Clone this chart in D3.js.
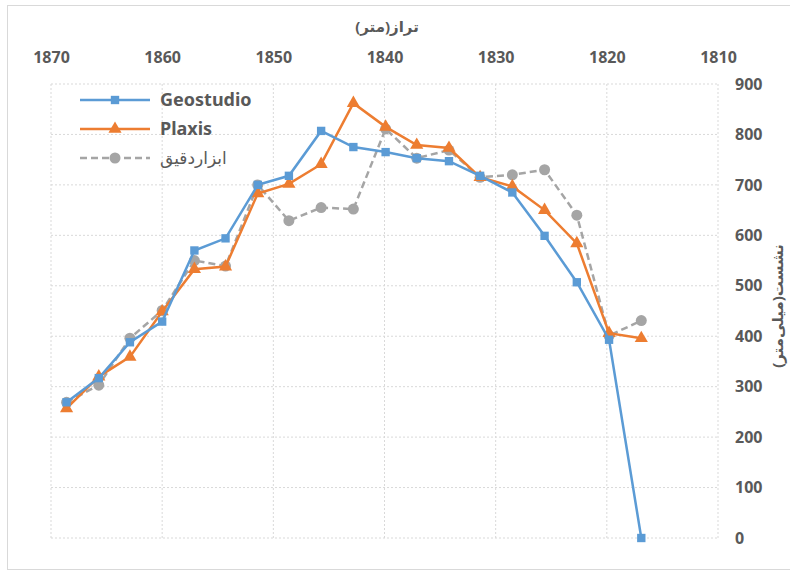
<!DOCTYPE html>
<html>
<head>
<meta charset="utf-8">
<script src="https://cdn.jsdelivr.net/npm/d3@7"></script>
<style>
  body { margin: 0; background: #fff; }
  text { font-family: "Noto Sans", "DejaVu Sans", sans-serif; fill: #595959; }
  .tick text { font-weight: bold; font-size: 16px; }
</style>
</head>
<body>
<script>
// elevation (m) and settlement (mm)
var elevation = [1868.6, 1865.7, 1862.9, 1860.0, 1857.1, 1854.3, 1851.4, 1848.6, 1845.7, 1842.8, 1839.9, 1837.1, 1834.2, 1831.4, 1828.5, 1825.6, 1822.7, 1819.8, 1816.9];
var geostudio = [269, 317, 388, 429, 570, 594, 700, 718, 807, 775, 765, 753, 747, 718, 685, 599, 507, 393, 0];
var plaxis    = [257, 320, 359, 449, 533, 538, 683, 702, 741, 862, 815, 779, 773, 715, 697, 650, 584, 406, 396];
var gauge     = [269, 303, 396, 451, 550, 539, 700, 629, 655, 652, 811, 753, 769, 715, 720, 730, 640, 401, 431];
var seriesNames = ["Geostudio", "Plaxis", "ابزاردقیق"];
var xTicks = [1870, 1860, 1850, 1840, 1830, 1820, 1810];
var yTicks = [0, 100, 200, 300, 400, 500, 600, 700, 800, 900];

var W = 790, H = 572;
var margin = {left: 51, right: 72, top: 84, bottom: 34};
var width = W - margin.left - margin.right;
var height = H - margin.top - margin.bottom;

var svg = d3.select("body").append("svg").attr("width", W).attr("height", H);

// outer chart border
svg.append("rect").attr("x", 7.5).attr("y", 5.5).attr("width", W).attr("height", H - 8)
  .attr("fill", "none").attr("stroke", "#d9d9d9");

var g = svg.append("g").attr("transform", "translate(" + margin.left + "," + margin.top + ")");

var x = d3.scaleLinear().domain([1870, 1810]).range([0, width]);
var y = d3.scaleLinear().domain([0, 900]).range([height, 0]);

// gridlines
g.selectAll(".vgrid").data(xTicks).enter().append("line")
  .attr("x1", function(d){ return x(d); }).attr("x2", function(d){ return x(d); })
  .attr("y1", 0).attr("y2", height)
  .attr("stroke", "#d9d9d9").attr("stroke-width", 1).attr("stroke-dasharray", "2,2");
g.selectAll(".hgrid").data(yTicks).enter().append("line")
  .attr("x1", 0).attr("x2", width)
  .attr("y1", function(d){ return y(d); }).attr("y2", function(d){ return y(d); })
  .attr("stroke", "#d9d9d9").attr("stroke-width", 1).attr("stroke-dasharray", "2,2");

// axes (labels only)
var xAxis = d3.axisTop(x).tickValues(xTicks).tickFormat(d3.format("d")).tickSize(0).tickPadding(21);
var yAxis = d3.axisRight(y).tickValues(yTicks).tickSize(0).tickPadding(17);
var gx = g.append("g").call(xAxis);
var gy = g.append("g").attr("transform", "translate(" + width + ",0)").call(yAxis);
gx.select(".domain").remove();
gy.select(".domain").remove();

// axis titles
svg.append("text").attr("x", 387).attr("y", 32).attr("text-anchor", "middle")
  .style("font-size", "15px").style("font-weight", "bold").text("تراز(متر)");
svg.append("text").attr("transform", "translate(783,306) rotate(-90)")
  .attr("text-anchor", "middle").style("font-size", "15px").style("font-weight", "bold")
  .text("نشست(میلی‌متر)");

var line = d3.line()
  .x(function(d){ return x(d[0]); })
  .y(function(d){ return y(d[1]); });

var series = [
  {name: seriesNames[0], values: geostudio, color: "#5b9bd5", dash: null, marker: d3.symbolSquare, size: 70},
  {name: seriesNames[1], values: plaxis, color: "#ed7d31", dash: null, marker: d3.symbolTriangle, size: 75},
  {name: seriesNames[2], values: gauge, color: "#a5a5a5", dash: "7,4", marker: d3.symbolCircle, size: 95}
];

// draw gauge first, then plaxis, then geostudio on top
series.slice().reverse().forEach(function(s){
  var pts = elevation.map(function(e, i){ return [e, s.values[i]]; });
  g.append("path").attr("d", line(pts)).attr("fill", "none")
    .attr("stroke", s.color).attr("stroke-width", 2.5)
    .attr("stroke-dasharray", s.dash);
  g.selectAll(null).data(pts).enter().append("path")
    .attr("d", d3.symbol().type(s.marker).size(s.size))
    .attr("transform", function(d){ return "translate(" + x(d[0]) + "," + y(d[1]) + ")"; })
    .attr("fill", s.color);
});

// legend
var legend = svg.append("g");
series.forEach(function(s, i){
  var ly = 100 + i * 29;
  legend.append("line").attr("x1", 80).attr("x2", 150).attr("y1", ly).attr("y2", ly)
    .attr("stroke", s.color).attr("stroke-width", 2.5).attr("stroke-dasharray", s.dash);
  legend.append("path").attr("d", d3.symbol().type(s.marker).size(s.size))
    .attr("transform", "translate(115," + ly + ")").attr("fill", s.color);
  legend.append("text").attr("x", 160).attr("y", ly).attr("dy", "0.35em")
    .style("font-size", i < 2 ? "18px" : "17px").style("font-weight", i < 2 ? "bold" : "normal")
    .attr("text-anchor", "start").attr("direction", "ltr")
    .text(s.name);
});
</script>
</body>
</html>
